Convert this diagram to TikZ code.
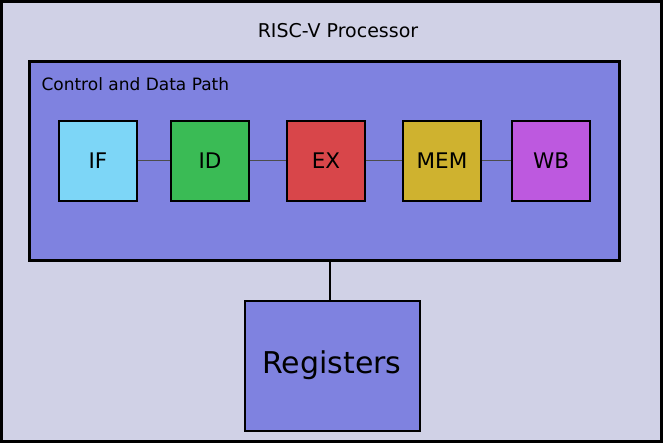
\documentclass[tikz,border=0pt]{standalone}
\usepackage{fontspec}
\setmainfont{DejaVu Sans}
\usetikzlibrary{positioning}
\definecolor{procbg}{HTML}{D0D1E6}
\definecolor{pathbg}{HTML}{7F82E0}
\definecolor{ifcol}{HTML}{7DD6F7}
\definecolor{idcol}{HTML}{3ABB55}
\definecolor{excol}{HTML}{D8464A}
\definecolor{memcol}{HTML}{CFB22F}
\definecolor{wbcol}{HTML}{BD59DF}

\begin{document}
\begin{tikzpicture}[
  x=1pt, y=-1pt,
  stage/.style={rectangle, draw=black, line width=1.6pt, minimum width=78pt, minimum height=80pt, font=\fontsize{21.5}{24}\selectfont, inner sep=0pt},
  link/.style={draw=black!70, line width=1pt}
]
\useasboundingbox (0,0) rectangle (663,443);
\draw[fill=procbg, line width=3pt] (1.5,1.5) rectangle (661.5,441.5);
\node[font=\fontsize{19}{22}\selectfont] (title) at (338,31) {RISC-V Processor};
\node[draw=black, fill=pathbg, line width=2.6pt, minimum width=590pt, minimum height=199pt, inner sep=0pt] (datapath) at (324.5,161) {};
\node[anchor=west, font=\fontsize{17}{20}\selectfont] (dplabel) at (38,84) {Control and Data Path};
\node[stage, fill=ifcol] (if) at (98,161) {IF};
\node[stage, fill=idcol] (id) at (210,161) {ID};
\node[stage, fill=excol] (ex) at (326,161) {EX};
\node[stage, fill=memcol] (mem) at (442,161) {MEM};
\node[stage, fill=wbcol] (wb) at (551,161) {WB};
\node[draw=black, fill=pathbg, line width=2pt, minimum width=175pt, minimum height=130pt, inner sep=0pt, font=\fontsize{30}{34}\selectfont] (regs) at (332,365.5) {Registers};
\draw[link] (if) -- (id);
\draw[link] (id) -- (ex);
\draw[link] (ex) -- (mem);
\draw[link] (mem) -- (wb);
\draw[line width=2pt] (datapath.south -| 330,0) -- (regs.north -| 330,0);
\end{tikzpicture}
\end{document}
